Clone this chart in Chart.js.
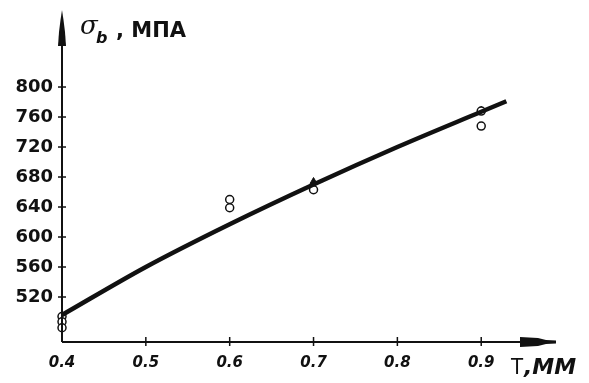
<!DOCTYPE html>
<html>
<head>
<meta charset="utf-8">
<script src="https://cdn.jsdelivr.net/npm/chart.js@4"></script>
<style>
  html, body { margin: 0; padding: 0; background: #fff; }
  #wrap { width: 589px; height: 383px; }
</style>
</head>
<body>
<div id="wrap"><canvas id="c" width="589" height="383"></canvas></div>
<script>
// fitted curve sigma_b(T)
const lineT = [0.4, 0.5, 0.6, 0.7, 0.8, 0.9, 0.93]
const lineSigma = [496, 560, 617, 670, 720, 767, 781]

// measured points (open circles)
const pointT = [0.4, 0.4, 0.4, 0.6, 0.6, 0.7, 0.9, 0.9]
const pointSigma = [494, 487, 479, 650, 639, 663, 768, 748]

// filled marks sitting on the curve
const markT = [0.7, 0.9]
const markSigma = [674, 769]

const xTicks = [0.4, 0.5, 0.6, 0.7, 0.8, 0.9]
const yTicks = [520, 560, 600, 640, 680, 720, 760, 800]

const yTitle = { sym: 'σ', sub: 'b', unit: ', МПА' }
const xTitle = { sym: 'Т', unit: ',ММ' }

const toXY = (xs, ys) => xs.map((x, i) => ({ x, y: ys[i] }))

// axes with arrows, cross ticks and titles
const axesPlugin = {
  id: 'axes',
  afterDatasetsDraw (chart) {
    const { ctx, scales: { x, y } } = chart
    const x0 = x.getPixelForValue(0.4)
    const y0 = y.getPixelForValue(460)
    ctx.save()
    ctx.strokeStyle = '#111'
    ctx.fillStyle = '#111'
    ctx.lineWidth = 2

    // y axis + arrow
    ctx.beginPath()
    ctx.moveTo(x0, y0)
    ctx.lineTo(x0, 40)
    ctx.stroke()
    ctx.beginPath()
    ctx.moveTo(x0, 10)
    ctx.lineTo(x0 + 1.5, 20)
    ctx.lineTo(x0 + 3, 32)
    ctx.lineTo(x0 + 4, 46)
    ctx.lineTo(x0 - 4, 46)
    ctx.lineTo(x0 - 3, 32)
    ctx.lineTo(x0 - 1.5, 20)
    ctx.closePath()
    ctx.fill()

    // x axis + arrow
    ctx.beginPath()
    ctx.moveTo(x0, y0)
    ctx.lineTo(522, y0)
    ctx.stroke()
    ctx.beginPath()
    ctx.moveTo(520, y0 - 5)
    ctx.lineTo(538, y0 - 4)
    ctx.lineTo(546, y0 - 2)
    ctx.lineTo(556, y0 - 1.5)
    ctx.lineTo(556, y0 + 1.5)
    ctx.lineTo(546, y0 + 2)
    ctx.lineTo(538, y0 + 4)
    ctx.lineTo(520, y0 + 5)
    ctx.closePath()
    ctx.fill()

    // cross ticks
    ctx.lineWidth = 1.5
    yTicks.forEach(v => {
      const py = y.getPixelForValue(v)
      ctx.beginPath()
      ctx.moveTo(x0 - 4, py)
      ctx.lineTo(x0 + 4, py)
      ctx.stroke()
    })
    xTicks.slice(1).forEach(v => {
      const px = x.getPixelForValue(v)
      ctx.beginPath()
      ctx.moveTo(px, y0 - 5)
      ctx.lineTo(px, y0 + 4)
      ctx.stroke()
    })

    // y title
    ctx.textBaseline = 'alphabetic'
    ctx.textAlign = 'left'
    ctx.font = 'italic 26px "DejaVu Serif"'
    ctx.fillText(yTitle.sym, 80, 34)
    ctx.font = 'bold italic 16px "DejaVu Sans"'
    ctx.fillText(yTitle.sub, 96, 43)
    ctx.font = 'bold 21px "DejaVu Sans"'
    ctx.fillText(yTitle.unit, 116, 37)

    // x title
    ctx.font = '22px "DejaVu Sans Condensed"'
    ctx.fillText(xTitle.sym, 511, 374)
    ctx.font = 'bold italic 22px "DejaVu Sans"'
    ctx.fillText(xTitle.unit, 524, 374)
    ctx.restore()
  }
}

new Chart(document.getElementById('c'), {
  type: 'scatter',
  data: {
    datasets: [
      {
        type: 'line',
        data: toXY(lineT, lineSigma),
        borderColor: '#111',
        borderWidth: 4.5,
        cubicInterpolationMode: 'monotone',
        pointRadius: 0,
        fill: false,
        clip: false
      },
      {
        data: toXY(pointT, pointSigma),
        pointStyle: 'circle',
        pointRadius: 4,
        borderColor: '#111',
        backgroundColor: '#fff',
        borderWidth: 1.5,
        clip: false
      },
      {
        data: toXY(markT, markSigma),
        pointStyle: 'triangle',
        pointRadius: 4,
        borderColor: '#111',
        backgroundColor: '#111',
        borderWidth: 1,
        clip: false
      }
    ]
  },
  options: {
    responsive: false,
    animation: false,
    layout: { padding: { top: 10, right: 34, left: 0, bottom: 0 } },
    plugins: { legend: { display: false }, tooltip: { enabled: false } },
    scales: {
      x: {
        type: 'linear',
        min: 0.4,
        max: 0.988,
        afterBuildTicks: s => { s.ticks = xTicks.map(v => ({ value: v })) },
        afterFit: s => { s.height = 41; s.paddingLeft = 0; s.paddingRight = 0 },
        border: { display: false },
        grid: { display: false, drawTicks: false },
        ticks: {
          padding: 12,
          color: '#111',
          font: { family: 'DejaVu Sans', size: 15, style: 'italic', weight: 'bold' },
          callback: v => v.toFixed(1)
        }
      },
      y: {
        type: 'linear',
        min: 460,
        max: 902.7,
        afterBuildTicks: s => { s.ticks = yTicks.map(v => ({ value: v })) },
        afterFit: s => { s.width = 62; s.paddingTop = 0; s.paddingBottom = 0 },
        border: { display: false },
        grid: { display: false, drawTicks: false },
        ticks: {
          padding: 9,
          color: '#111',
          font: { family: 'DejaVu Sans', size: 18, weight: 'bold' },
          callback: v => String(v)
        }
      }
    }
  },
  plugins: [axesPlugin]
})
</script>
</body>
</html>
